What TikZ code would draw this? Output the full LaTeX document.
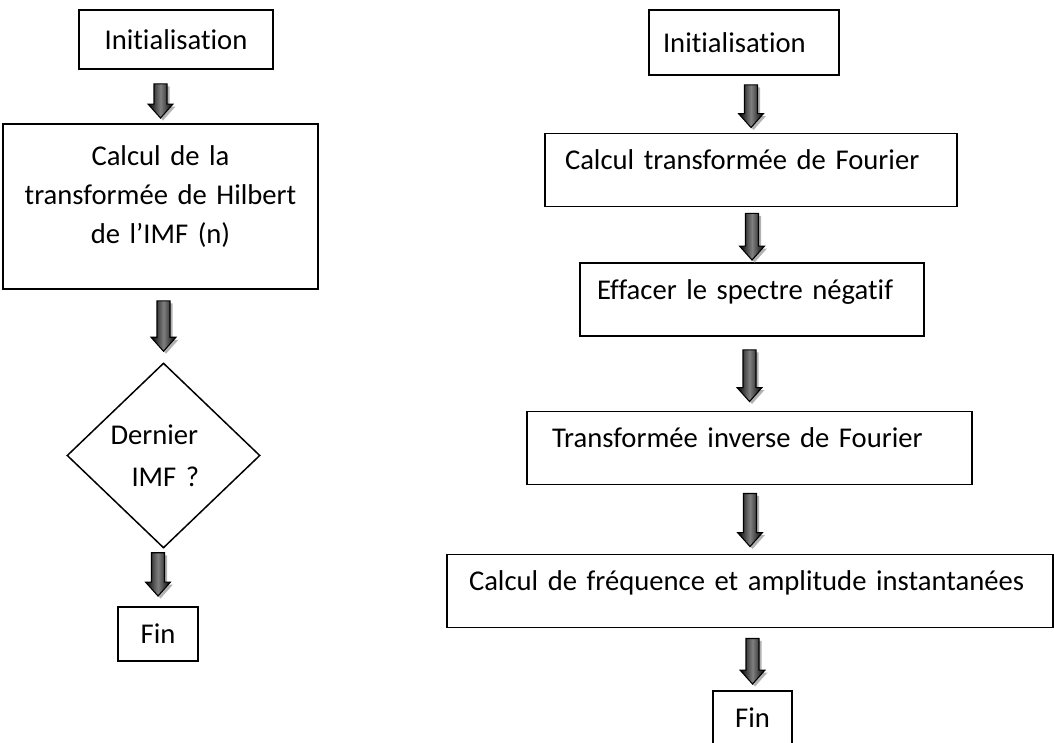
\documentclass[tikz,border=0pt]{standalone}
\usepackage{fontspec}
\setmainfont{Carlito}[Ligatures=NoCommon, WordSpace=0.8]
\usetikzlibrary{calc, shapes.geometric}

\newcommand{\policeBoite}{\fontsize{16.3pt}{22.2pt}\selectfont}
\colorlet{grisOmbre}{gray!60}

% Flecha gruesa entre dos cajas: origen, destino, hueco arriba, hueco abajo
\newcommand{\flecha}[4]{%
  \coordinate (fpointe) at ($(#2.north)+(0,#4)$);
  \coordinate (fbas) at ($(#1.south)+(0,-#3)$);
  \coordinate (fqueue) at (fpointe |- fbas);
  \def\cheminFleche{($(fqueue)+(-0.13,0)$) -- ($(fqueue)+(0.13,0)$)
    -- ($(fpointe)+(0.13,0.28)$) -- ($(fpointe)+(0.25,0.28)$) -- (fpointe)
    -- ($(fpointe)+(-0.25,0.28)$) -- ($(fpointe)+(-0.13,0.28)$) -- cycle}
  \begin{scope}[transform canvas={shift={(0.05,-0.05)}}]
    \fill[grisOmbre] \cheminFleche;
  \end{scope}
  \shadedraw[fleche] \cheminFleche;
}

\begin{document}
\begin{tikzpicture}[
    boite/.style={draw, rectangle, line width=1.1pt, inner ysep=0pt, font=\policeBoite},
    etapeD/.style={boite, align=left, minimum height=1.46cm, text depth=0.4cm},
    losange/.style={draw, diamond, line width=0.85pt, inner sep=0pt, font=\policeBoite},
    fleche/.style={draw=black, line width=0.6pt, left color=black,
      right color=black, middle color=black!50}
  ]
  \useasboundingbox (0,0) rectangle (21.08,-14.84);

  % Colonne de gauche
  \node[boite, minimum width=3.88cm, minimum height=1.18cm] (initG) at (3.52,-0.79) {Initialisation};
  \node[boite, minimum width=6.30cm, minimum height=3.30cm, text width=6.0cm,
    inner xsep=0.15cm, align=center, text depth=2.02cm] (calcul) at (3.21,-4.13)
    {Calcul de la\\transformée de Hilbert\\de l’IMF (n)};
  \node[losange, minimum width=3.86cm, minimum height=3.70cm, text width=2.12cm,
    align=left] (dernier) at (3.27,-9.11) {Dernier\\[1.7pt]\hspace*{0.42cm}IMF ?};
  \node[boite, minimum width=1.60cm, minimum height=1.08cm] (finG) at (3.16,-12.68) {Fin};

  % Colonne de droite
  \node[boite, minimum height=1.30cm, inner xsep=0.28cm, text width=3.24cm,
    align=left] (initD) at (14.88,-0.85) {Initialisation};
  \node[etapeD, text width=7.44cm, inner xsep=0.40cm] (fourier) at (15.02,-3.40)
    {Calcul transformée de Fourier};
  \node[etapeD, text width=6.20cm, inner xsep=0.34cm] (effacer) at (15.04,-5.99)
    {Effacer le spectre négatif};
  \node[etapeD, text width=7.90cm, inner xsep=0.50cm] (inverse) at (14.99,-8.96)
    {Transformée inverse de Fourier};
  \node[etapeD, text width=11.24cm, inner xsep=0.44cm] (freq) at (15.00,-11.82)
    {Calcul de fréquence et amplitude instantanées};
  \node[boite, minimum width=1.58cm, minimum height=1.08cm] (finD) at (15.05,-14.36) {Fin};

  % Flechas
  \flecha{initG}{calcul}{0.28}{0.10}
  \flecha{calcul}{dernier}{0.22}{0.22}
  \flecha{dernier}{finG}{0.08}{0.20}
  \flecha{initD}{fourier}{0.18}{0.10}
  \flecha{fourier}{effacer}{0.12}{0.04}
  \flecha{effacer}{inverse}{0.26}{0.18}
  \flecha{inverse}{freq}{0.16}{0.14}
  \flecha{freq}{finD}{0.20}{0.12}
\end{tikzpicture}
\end{document}
